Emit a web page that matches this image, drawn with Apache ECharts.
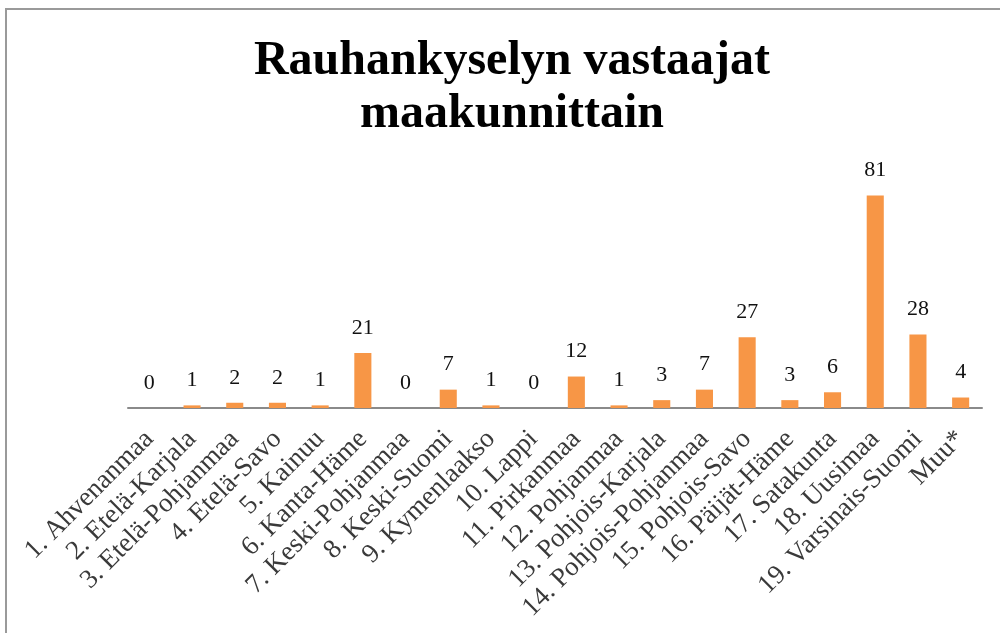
<!DOCTYPE html>
<html lang="fi">
<head>
    <meta charset="UTF-8">
    <title>Rauhankyselyn vastaajat maakunnittain</title>
    <style>
        html, body { margin: 0; padding: 0; background: #fff; }
    </style>
</head>
<body>
<div id="chart" style="width: 1000px;height: 633px;"></div>
<script src="https://cdn.jsdelivr.net/npm/echarts@6/dist/echarts.min.js" type="text/javascript"></script>
<script type="text/javascript">
    // maakunnat
    let regions = [
        '1. Ahvenanmaa', '2. Etelä-Karjala', '3. Etelä-Pohjanmaa', '4. Etelä-Savo',
        '5. Kainuu', '6. Kanta-Häme', '7. Keski-Pohjanmaa', '8. Keski-Suomi',
        '9. Kymenlaakso', '10. Lappi', '11. Pirkanmaa', '12. Pohjanmaa',
        '13. Pohjois-Karjala', '14. Pohjois-Pohjanmaa', '15. Pohjois-Savo',
        '16. Päijät-Häme', '17. Satakunta', '18. Uusimaa', '19. Varsinais-Suomi', 'Muu*'
    ];
    // vastaajien määrä
    let respondents = [0, 1, 2, 2, 1, 21, 0, 7, 1, 0, 12, 1, 3, 7, 27, 3, 6, 81, 28, 4];

    let chart = echarts.init(document.getElementById('chart'));

    let option = {
        backgroundColor: '#fff',
        animation: false,
        title: {
            text: 'Rauhankyselyn vastaajat\nmaakunnittain',
            left: 507,
            top: 30,
            textAlign: 'center',
            textStyle: {
                fontFamily: '"Liberation Serif", "Times New Roman", serif',
                fontWeight: 'bold',
                fontSize: 48,
                lineHeight: 53,
                color: '#000'
            }
        },
        graphic: [
            {
                type: 'rect',
                shape: {x: 6, y: 9, width: 1000, height: 700},
                style: {fill: 'none', stroke: '#9a9a9a', lineWidth: 2},
                silent: true
            }
        ],
        grid: {
            left: 128,
            right: 18,
            top: 172,
            bottom: 225
        },
        xAxis: {
            type: 'category',
            data: regions,
            axisLine: {lineStyle: {color: '#8a8a8a', width: 2}},
            axisTick: {show: false},
            axisLabel: {
                interval: 0,
                rotate: 45,
                margin: 27,
                fontFamily: '"Liberation Serif", "Times New Roman", serif',
                fontSize: 27,
                color: '#3a3a3a'
            }
        },
        yAxis: {
            type: 'value',
            min: 0,
            max: 90,
            show: false,
            splitLine: {show: false}
        },
        series: [
            {
                name: 'Vastaajat',
                type: 'bar',
                data: respondents,
                barWidth: '40%',
                itemStyle: {color: '#F79646'},
                label: {
                    show: true,
                    position: 'top',
                    distance: 14,
                    fontFamily: '"Liberation Serif", "Times New Roman", serif',
                    fontSize: 22,
                    color: '#111'
                }
            }
        ]
    };

    chart.setOption(option);
</script>
</body>
</html>
